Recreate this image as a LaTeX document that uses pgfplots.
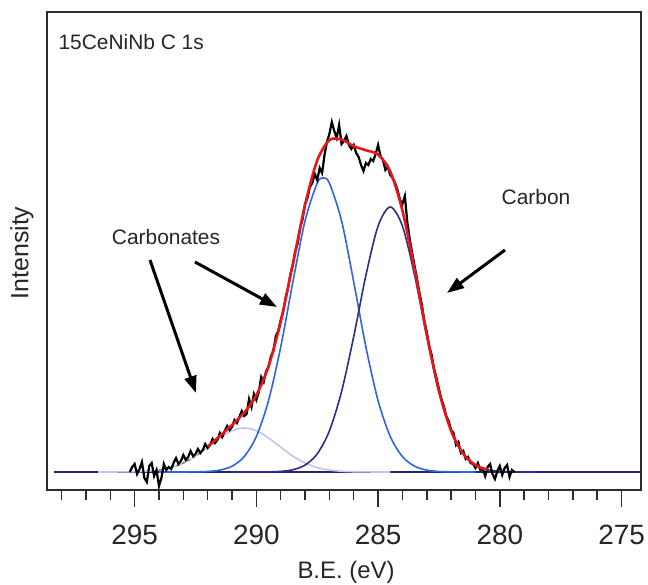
\documentclass[border=0pt]{standalone}
\usepackage{fontspec}
\setmainfont{Liberation Sans}
\usepackage{pgfplots}
\pgfplotsset{compat=1.18}
\usetikzlibrary{arrows.meta}
\definecolor{fitred}{RGB}{228,24,28}
\definecolor{compA}{RGB}{50,100,225}
\definecolor{compB}{RGB}{45,45,135}
\definecolor{compC}{RGB}{195,195,240}
\definecolor{basec}{RGB}{35,35,115}
\definecolor{axgray}{RGB}{45,45,45}
\begin{document}
\begin{tikzpicture}
\useasboundingbox (0bp,0bp) rectangle (648bp,585bp);
\begin{axis}[
  at={(47bp,95bp)}, anchor=south west,
  width=594bp, height=478bp, scale only axis,
  xmin=274.2, xmax=298.6, ymin=-18, ymax=460,
  x dir=reverse,
  xtick=\empty, ytick=\empty,
  clip mode=individual,
  axis line style={axgray, line width=1.5bp},
]
% tick marks and tick labels of the B.E. axis
\pgfplotsinvokeforeach{276,277,278,279,281,282,283,284,286,287,288,289,291,292,293,294,296,297,298}{
  \draw[axgray, line width=1.5bp] (axis cs:#1,-18) -- ++(0bp,-10bp);
}
\pgfplotsinvokeforeach{275,280,285,290,295}{
  \draw[axgray, line width=1.5bp] (axis cs:#1,-18) -- ++(0bp,-17bp);
  \node[font=\fontsize{28}{30}\selectfont, text=black!85, yshift=-45bp] at (axis cs:#1,-18) {#1};
}
% baseline
\addplot[basec, line width=1.6bp] coordinates {(298.3,0) (274.2,0)};
% component 3 (lavender)
\addplot[compC, line width=1.6bp, smooth] coordinates {
(296.5,0) (296.0,0.02) (295.5,0.08) (295.0,0.25) (294.5,0.75) (294.0,1.94)
(293.5,4.45) (293.0,8.96) (292.5,15.9) (292.0,24.8) (291.5,34.1) (291.0,41.3)
(290.5,44) (290.0,41.3) (289.5,34.1) (289.0,24.8) (288.5,15.9) (288.0,8.96)
(287.5,4.45) (287.0,1.94) (286.5,0.75) (286.0,0.25) (285.5,0.08) (285.0,0.02) (284.5,0)};
% component 1 (blue)
\addplot[compA, line width=1.6bp, smooth] coordinates {
(294.0,0) (293.5,0) (293.0,0.03) (292.5,0.13) (292.0,0.54) (291.5,1.89)
(291.0,5.78) (290.5,15.4) (290.0,35.5) (289.5,71.4) (289.0,124.9) (288.5,190.0)
(288.0,251.2) (287.5,288.9) (287.25,294) (287.0,288.9) (286.5,251.2) (286.0,190.0)
(285.5,124.9) (285.0,71.4) (284.5,35.5) (284.0,15.4) (283.5,5.78) (283.0,1.89)
(282.5,0.54) (282.0,0.13) (281.5,0.03) (281.0,0)};
% component 2 (navy)
\addplot[compB, line width=1.6bp, smooth] coordinates {
(291.0,0) (290.5,0) (290.0,0.03) (289.5,0.15) (289.0,0.63) (288.5,2.25)
(288.0,6.9) (287.5,18.1) (287.0,41.1) (286.5,80.4) (286.0,135.5) (285.5,196.7)
(285.0,246.0) (284.5,265) (284.0,246.0) (283.5,196.7) (283.0,135.5) (282.5,80.4)
(282.0,41.1) (281.5,18.1) (281.0,6.9) (280.5,2.25) (280.0,0.63) (279.5,0.15)
(279.0,0.03) (278.5,0)};
% envelope tail (dashed)
\addplot[gray, dashed, line width=1.5bp, smooth] coordinates {
(294.0,1.94) (293.5,4.45) (293.0,9.0) (292.5,16.0) (292.0,25.3)};
% measured data
\addplot[black, line width=2.2bp] coordinates {
(295.2,0) (295.1,5) (295.0,8) (294.9,-2) (294.8,3) (294.7,10) (294.6,-6) (294.5,-10)
(294.4,6) (294.3,9) (294.2,-4) (294.1,2) (294.0,-14) (293.9,-6) (293.8,8) (293.7,2)
(293.6,5) (293.5,3) (293.4,9) (293.3,14) (293.2,8) (293.1,11) (293.0,17) (292.9,12)
(292.8,15) (292.7,21) (292.6,16) (292.5,18) (292.4,23) (292.3,19) (292.2,22) (292.1,28)
(292.0,24) (291.9,27) (291.8,33) (291.7,29) (291.6,32) (291.5,39) (291.4,35) (291.3,41)
(291.2,46) (291.1,42) (291.0,45) (290.9,52) (290.8,49) (290.7,55) (290.6,61) (290.5,56)
(290.4,58) (290.3,73) (290.2,65) (290.1,78) (290.0,72) (289.9,80) (289.8,95) (289.7,90)
(289.6,101) (289.5,105) (289.4,116) (289.3,121) (289.2,136) (289.1,141) (289.0,152) (288.9,160)
(288.8,174) (288.7,184) (288.6,198) (288.5,207) (288.4,221) (288.3,229) (288.2,244) (288.1,253)
(288.0,268) (287.9,274) (287.8,285) (287.7,289) (287.6,298) (287.5,292) (287.4,304) (287.3,299)
(287.2,317) (287.1,330) (287.0,338) (286.9,350) (286.8,341) (286.7,334) (286.6,347) (286.5,328)
(286.4,331) (286.3,336) (286.2,327) (286.1,323) (286.0,327) (285.9,319) (285.8,315) (285.7,307)
(285.6,301) (285.5,309) (285.4,307) (285.3,313) (285.2,311) (285.1,318) (285.0,327) (284.9,316)
(284.8,312) (284.7,302) (284.6,305) (284.5,297) (284.4,294) (284.3,289) (284.2,282) (284.1,272)
(284.0,268) (283.9,276) (283.8,250) (283.7,233) (283.6,219) (283.5,206) (283.4,193) (283.3,179)
(283.2,167) (283.1,151) (283.0,140) (282.9,126) (282.8,117) (282.7,103) (282.6,94) (282.5,83)
(282.4,73) (282.3,66) (282.2,56) (282.1,51) (282.0,42) (281.9,39) (281.8,27) (281.7,30)
(281.6,19) (281.5,21) (281.4,13) (281.3,15) (281.2,9) (281.1,8) (281.0,4) (280.9,9)
(280.8,2) (280.7,3) (280.6,-4) (280.5,5) (280.4,8) (280.3,-2) (280.2,-7) (280.1,1)
(280.0,6) (279.9,-3) (279.8,4) (279.7,7) (279.6,-5) (279.5,2) (279.4,0)};
% fitted envelope
\addplot[fitred, line width=2.6bp, smooth] coordinates {
(292.0,25.3) (291.5,36.0) (291.0,47.1) (290.5,59.4) (290.0,76.8) (289.5,105.7)
(289.0,150.3) (288.5,208.2) (288.0,267.1) (287.5,311.5) (287.0,331.9) (286.5,332.4)
(286.0,325.8) (285.5,321.7) (285.0,317.4) (284.5,300.5) (284.0,261.4) (283.5,202.5)
(283.0,137.4) (282.5,80.9) (282.0,41.2) (281.5,18.1) (281.0,6.9) (280.5,2.25)};
\end{axis}
% texts
\node[anchor=west, font=\fontsize{21}{24}\selectfont, text=black!85] at (55bp,543bp) {15CeNiNb C 1s};
\node[font=\fontsize{21}{24}\selectfont, text=black!85] at (166bp,348bp) {Carbonates};
\node[font=\fontsize{21}{24}\selectfont, text=black!85] at (536bp,388bp) {Carbon};
\node[rotate=90, font=\fontsize{25}{28}\selectfont, text=black!85] at (22bp,332bp) {Intensity};
\node[font=\fontsize{24}{27}\selectfont, text=black!85] at (346bp,13bp) {B.E. (eV)};
% arrows
\draw[line width=3bp, -{Triangle[length=17bp,width=12bp]}] (150bp,325bp) -- (196bp,192bp);
\draw[line width=3bp, -{Triangle[length=17bp,width=12bp]}] (195bp,323bp) -- (277bp,278bp);
\draw[line width=3bp, -{Triangle[length=17bp,width=12bp]}] (505bp,335bp) -- (447bp,292bp);
\end{tikzpicture}
\end{document}
